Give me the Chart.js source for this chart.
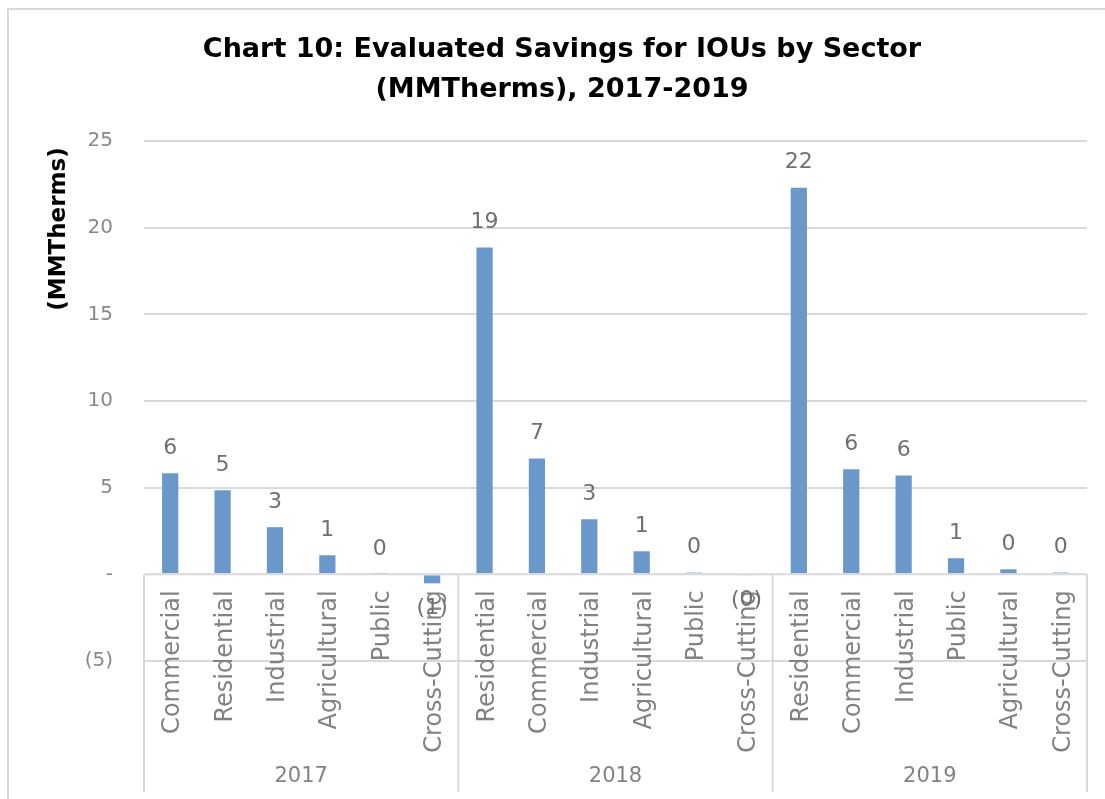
<!DOCTYPE html>
<html>
<head>
<meta charset="utf-8">
<title>Evaluated Savings for IOUs by Sector</title>
<script src="https://cdn.jsdelivr.net/npm/chart.js@4.4.1/dist/chart.umd.min.js"></script>
<style>
  html, body { margin: 0; padding: 0; background: #fff; }
  #chart { display: block; }
</style>
</head>
<body>
<canvas id="chart" width="1105" height="799"></canvas>
<script>
'use strict';

/* ── Data ─────────────────────────────────────────────────────────────── */

const YEARS = ['2017', '2018', '2019'];
const SECTORS_2017 = ['Commercial', 'Residential', 'Industrial', 'Agricultural', 'Public', 'Cross-Cutting'];
const SECTORS_2018 = ['Residential', 'Commercial', 'Industrial', 'Agricultural', 'Public', 'Cross-Cutting'];
const SECTORS_2019 = ['Residential', 'Commercial', 'Industrial', 'Public', 'Agricultural', 'Cross-Cutting'];
const SAVINGS_2017 = [5.83, 4.85, 2.72, 1.10, 0.02, -0.52];
const SAVINGS_2018 = [18.85, 6.68, 3.18, 1.33, 0.10, -0.05];
const SAVINGS_2019 = [22.31, 6.06, 5.70, 0.93, 0.29, 0.10];
const Y_MIN = -5, Y_MAX = 25, Y_STEP = 5;

const TITLE_LINES = ['Chart 10: Evaluated Savings for IOUs by Sector', '(MMTherms), 2017-2019'];
const Y_TITLE = '(MMTherms)';

/* ── Style ────────────────────────────────────────────────────────────── */

const FONT = '"DejaVu Sans", sans-serif';
const BAR_COLOR = '#6a98ca';
const LINE_COLOR = '#d9d9d9';
const LABEL_GREY = '#828282';

const groups = [SECTORS_2017, SECTORS_2018, SECTORS_2019];
const labels = [].concat(...groups);
const values = [].concat(SAVINGS_2017, SAVINGS_2018, SAVINGS_2019);

// accounting style: 0 shows as a dash, negatives in brackets
function fmtTick(v) {
    if (v === 0) return '-';
    return v < 0 ? `(${Math.abs(v)})` : String(v);
}

function fmtLabel(v) {
    const r = Math.abs(Math.round(v));
    return v < 0 ? `(${r})` : String(r);
}

/* ── Decorations: frame, title, category axis, data labels ───────────── */

const decorations = {
    id: 'decorations',
    beforeDraw(chart) {
        const ctx = chart.ctx;
        ctx.save();
        ctx.fillStyle = '#fff';
        ctx.fillRect(0, 0, chart.width, chart.height);
        ctx.strokeStyle = LINE_COLOR;
        ctx.lineWidth = 2;
        ctx.strokeRect(8, 9, chart.width + 20, chart.height + 20);
        ctx.restore();
    },
    afterDatasetsDraw(chart) {
        const ctx = chart.ctx;
        const area = chart.chartArea;
        const xs = chart.scales.x;
        const ys = chart.scales.y;
        const y0 = ys.getPixelForValue(0);
        const bottom = 792;

        ctx.save();

        // category axis sitting on zero, with year dividers
        ctx.strokeStyle = LINE_COLOR;
        ctx.lineWidth = 2;
        ctx.beginPath();
        ctx.moveTo(area.left, y0);
        ctx.lineTo(area.right, y0);
        const edges = [area.left];
        let idx = 0;
        groups.forEach((g, gi) => {
            idx += g.length;
            if (gi < groups.length - 1) {
                edges.push((xs.getPixelForValue(idx - 1) + xs.getPixelForValue(idx)) / 2);
            }
        });
        edges.push(area.right);
        edges.forEach(x => {
            ctx.moveTo(x, y0);
            ctx.lineTo(x, bottom);
        });
        ctx.stroke();

        // rotated sector names
        ctx.fillStyle = LABEL_GREY;
        ctx.font = `24px ${FONT}`;
        ctx.textAlign = 'right';
        ctx.textBaseline = 'alphabetic';
        labels.forEach((lab, i) => {
            const x = xs.getPixelForValue(i);
            ctx.save();
            ctx.translate(x, y0 + 16);
            ctx.rotate(-Math.PI / 2);
            ctx.fillText(lab, 0, 9);
            ctx.restore();
        });

        // year names under each block
        ctx.font = `21px ${FONT}`;
        ctx.textAlign = 'center';
        ctx.textBaseline = 'middle';
        YEARS.forEach((yr, i) => {
            ctx.fillText(yr, (edges[i] + edges[i + 1]) / 2, 777);
        });

        // value labels above / below each bar
        const meta = chart.getDatasetMeta(0);
        ctx.fillStyle = '#707070';
        ctx.font = `22px ${FONT}`;
        meta.data.forEach((bar, i) => {
            const v = values[i];
            const y = v < 0 ? bar.y + 25 : bar.y - 25;
            ctx.fillText(fmtLabel(v), bar.x, y);
        });

        // chart title
        ctx.fillStyle = '#000';
        ctx.font = `bold 27px ${FONT}`;
        TITLE_LINES.forEach((line, i) => {
            ctx.fillText(line, 562, 50 + i * 40);
        });

        // value axis title
        ctx.save();
        ctx.translate(59, 229);
        ctx.rotate(-Math.PI / 2);
        ctx.font = `bold 23px ${FONT}`;
        ctx.fillText(Y_TITLE, 0, 0);
        ctx.restore();

        ctx.restore();
    },
};

/* ── Chart ────────────────────────────────────────────────────────────── */

new Chart(document.getElementById('chart').getContext('2d'), {
    type: 'bar',
    data: {
        labels: labels,
        datasets: [{
            data: values,
            backgroundColor: BAR_COLOR,
            borderWidth: 0,
            categoryPercentage: 1.0,
            barPercentage: 0.31,
        }],
    },
    options: {
        responsive: false,
        animation: false,
        layout: { padding: { top: 141, right: 18, bottom: 138, left: 0 } },
        plugins: {
            legend: { display: false },
            title: { display: false },
            tooltip: { enabled: false },
        },
        scales: {
            x: { display: false },
            y: {
                min: Y_MIN,
                max: Y_MAX,
                afterFit: s => { s.width = 144; },
                border: { display: false },
                grid: {
                    color: ctx => (ctx.tick && ctx.tick.value === 0 ? 'rgba(0,0,0,0)' : LINE_COLOR),
                    lineWidth: 2,
                    drawTicks: false,
                },
                ticks: {
                    stepSize: Y_STEP,
                    padding: 31,
                    color: '#888',
                    font: { family: FONT, size: 20 },
                    callback: v => fmtTick(v),
                },
            },
        },
    },
    plugins: [decorations],
});
</script>
</body>
</html>
